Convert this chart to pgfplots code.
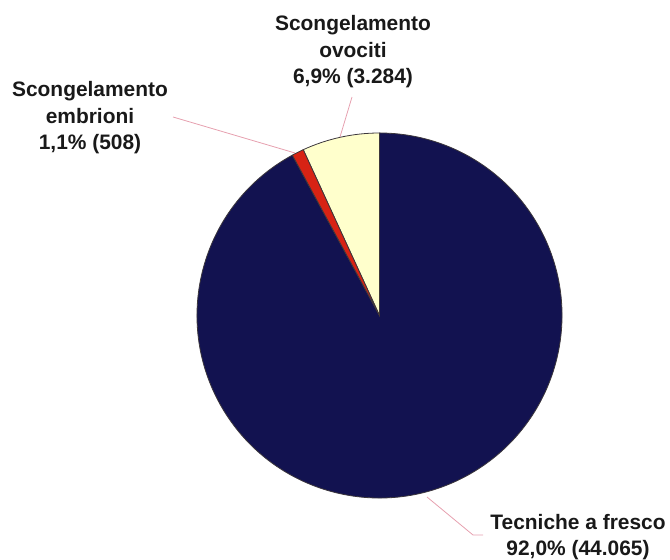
\documentclass[border=0pt]{standalone}
\usepackage{pgfplots}
\usepackage{pgfplotstable}
\pgfplotsset{compat=1.18}
\usepackage{fontspec}
\setmainfont{Liberation Sans}
\definecolor{navy}{RGB}{18,18,80}
\definecolor{pred}{RGB}{215,35,20}
\definecolor{pyel}{RGB}{255,255,204}
\definecolor{edge}{RGB}{60,55,60}
\definecolor{leader}{RGB}{230,160,175}
\definecolor{txt}{RGB}{25,25,25}
\pgfplotstableread[col sep=comma]{
label,value
fresco,44065
ovociti,3284
embrioni,508
}\pietable
\tikzset{lbl/.style={font=\fontsize{21}{26.5}\selectfont\bfseries, text=txt, align=center, inner sep=0pt}}
\begin{document}
\begin{tikzpicture}
\pgfplotstablegetelem{0}{value}\of\pietable \edef\va{\pgfplotsretval}
\pgfplotstablegetelem{1}{value}\of\pietable \edef\vb{\pgfplotsretval}
\pgfplotstablegetelem{2}{value}\of\pietable \edef\vc{\pgfplotsretval}
\edef\angB{\fpeval{90+360*\vb/(\va+\vb+\vc)}}
\edef\angC{\fpeval{\angB+360*\vc/(\va+\vb+\vc)}}
\begin{axis}[x=1bp,y=1bp,xmin=0,xmax=670,ymin=0,ymax=560,hide axis,clip=false]
\addplot[leader, line width=0.8bp] coordinates {(352,463) (340,423)};
\addplot[leader, line width=0.8bp] coordinates {(173,443) (295,407)};
\addplot[leader, line width=0.8bp] coordinates {(427,63) (473,25) (483,25)};
\filldraw[fill=navy, draw=edge, line width=0.8bp] (axis cs:379.5,244.5) -- ++(\angC:182.5bp) arc[start angle=\angC, end angle=450, radius=182.5bp] -- cycle;
\filldraw[fill=pyel, draw=edge, line width=0.8bp] (axis cs:379.5,244.5) -- ++(90:182.5bp) arc[start angle=90, end angle=\angB, radius=182.5bp] -- cycle;
\filldraw[fill=pred, draw=edge, line width=0.8bp] (axis cs:379.5,244.5) -- ++(\angB:182.5bp) arc[start angle=\angB, end angle=\angC, radius=182.5bp] -- cycle;
\node[lbl] at (axis cs:353,508) {Scongelamento\\ovociti\\6,9\% (3.284)};
\node[lbl] at (axis cs:90,442) {Scongelamento\\embrioni\\1,1\% (508)};
\node[lbl] at (axis cs:578,23) {Tecniche a fresco\\92,0\% (44.065)};
\end{axis}
\pgfresetboundingbox
\path (current axis.south west) rectangle (current axis.north east);
\end{tikzpicture}
\end{document}
